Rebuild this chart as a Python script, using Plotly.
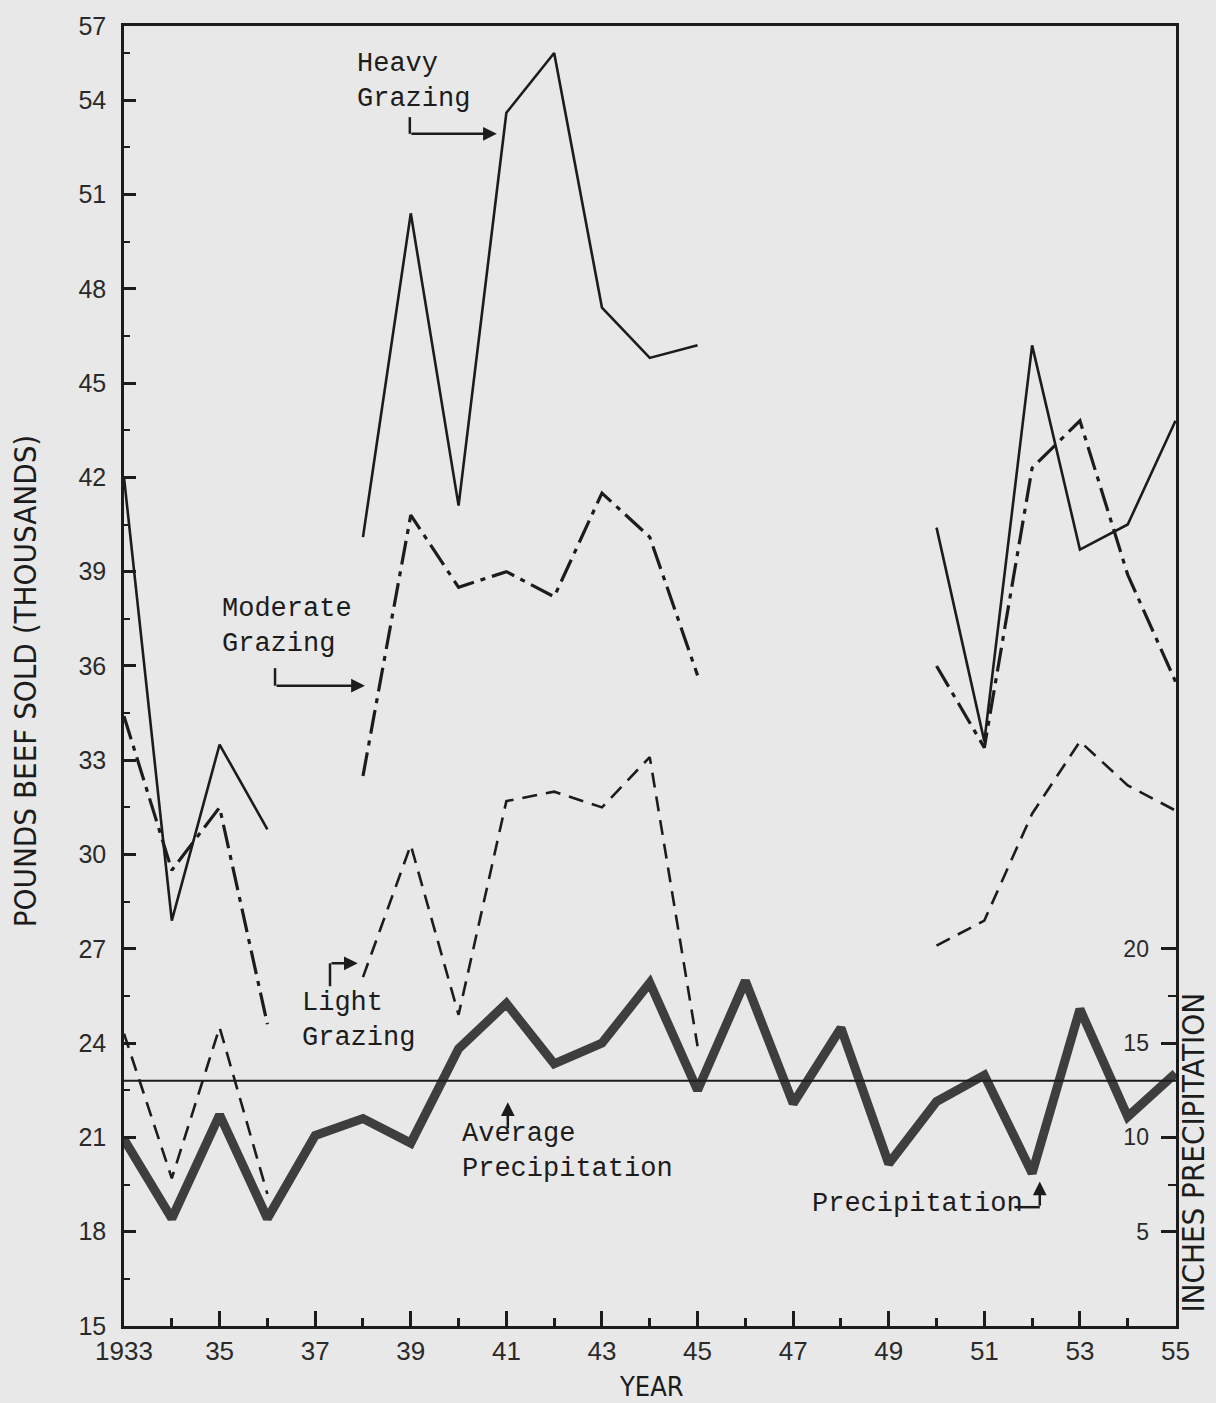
import plotly.graph_objects as go

# ---------------- data ----------------
YEARS = list(range(1933, 1956))

# Pounds of beef sold (thousands) per grazing intensity; None = no record
HEAVY = [42.0, 27.9, 33.5, 30.8, None, 40.1, 50.4, 41.1, 53.6, 55.5, 47.4, 45.8, 46.2,
         None, None, None, None, 40.4, 33.6, 46.2, 39.7, 40.5, 43.8]
MODERATE = [34.4, 29.5, 31.5, 24.6, None, 32.5, 40.8, 38.5, 39.0, 38.2, 41.5, 40.1, 35.7,
            None, None, None, None, 36.0, 33.4, 42.3, 43.8, 38.9, 35.5]
LIGHT = [24.3, 19.7, 24.5, 19.2, None, 26.1, 30.3, 24.9, 31.7, 32.0, 31.5, 33.1, 23.9,
         None, None, None, None, 27.1, 27.9, 31.3, 33.6, 32.2, 31.4]

# Inches of precipitation per year
PRECIP = [9.9, 5.7, 11.2, 5.7, 10.1, 11.0, 9.7, 14.7, 17.1, 13.9, 15.0, 18.2, 12.5,
          18.3, 11.8, 15.8, 8.6, 11.9, 13.3, 8.1, 16.8, 11.1, 13.4]
AVG_PRECIP = 13.0

X_TICKVALS = list(range(1933, 1956, 2))
X_TICKTEXT = ["1933", "35", "37", "39", "41", "43", "45", "47", "49", "51", "53", "55"]
X_MINOR = list(range(1934, 1956, 2))

Y_TOP = 56.36
Y_TICKVALS = list(range(15, 55, 3)) + [Y_TOP - 0.02]
Y_TICKTEXT = ["15", "18", "21", "24", "27", "30", "33", "36", "39", "42", "45", "48", "51", "54", "57"]
Y_MINOR = [v + 1.5 for v in range(15, 55, 3)]

R_TOP = (Y_TOP - 15) / 0.6
R_TICKVALS = [5, 10, 15, 20]
R_TICKTEXT = ["\u20075", "10", "15", "20"]
R_MINOR = [7.5, 17.5]

# ---------------- style ----------------
INK = "#1c1c1c"
BG = "#e8e8e8"
SANS = "Liberation Sans, Arial, sans-serif"
NARROW = "Liberation Sans Narrow, Arial Narrow, DejaVu Sans Condensed, Liberation Sans, sans-serif"
MONO = "Liberation Mono, Courier New, monospace"

fig = go.Figure()

fig.add_trace(go.Scatter(x=YEARS, y=PRECIP, yaxis="y2", mode="lines",
                         line=dict(color="#3e3e3e", width=9), name="Precipitation"))
fig.add_trace(go.Scatter(x=YEARS, y=HEAVY, mode="lines", connectgaps=False,
                         line=dict(color=INK, width=2.6), name="Heavy Grazing"))
fig.add_trace(go.Scatter(x=YEARS, y=MODERATE, mode="lines", connectgaps=False,
                         line=dict(color=INK, width=3.2, dash="24px,7px,5px,7px"),
                         name="Moderate Grazing"))
fig.add_trace(go.Scatter(x=YEARS, y=LIGHT, mode="lines", connectgaps=False,
                         line=dict(color=INK, width=2.6, dash="15px,9px"),
                         name="Light Grazing"))

shapes = [
    dict(type="line", xref="paper", x0=0, x1=1, yref="y2", y0=AVG_PRECIP, y1=AVG_PRECIP,
         line=dict(color=INK, width=2)),
    # bracket stubs of the label arrows
    dict(type="line", xref="x", yref="y", x0=1938.98, x1=1938.98, y0=53.46, y1=52.93,
         line=dict(color=INK, width=2.5)),
    dict(type="line", xref="x", yref="y", x0=1936.16, x1=1936.16, y0=35.93, y1=35.37,
         line=dict(color=INK, width=2.5)),
    dict(type="line", xref="x", yref="y", x0=1937.31, x1=1937.31, y0=25.81, y1=26.54,
         line=dict(color=INK, width=2.5)),
    dict(type="line", xref="x", yref="y", x0=1951.63, x1=1952.16, y0=18.78, y1=18.78,
         line=dict(color=INK, width=2.5)),
]


def label(text, x, y):
    return dict(text=text, x=x, y=y, xref="x", yref="y", xanchor="left", yanchor="middle",
                align="left", showarrow=False, font=dict(family=MONO, size=27, color=INK))


def arrow(tip_x, tip_y, tail_x, tail_y):
    return dict(text="", x=tip_x, y=tip_y, ax=tail_x, ay=tail_y, xref="x", yref="y",
                axref="x", ayref="y", showarrow=True, arrowhead=2, arrowsize=1.1,
                arrowwidth=2.5, arrowcolor=INK, standoff=0, startstandoff=0)


annotations = [
    label("Heavy<br>Grazing", 1937.83, 54.6),
    arrow(1940.80, 52.93, 1938.98, 52.93),
    label("Moderate<br>Grazing", 1935.01, 37.26),
    arrow(1938.04, 35.37, 1936.16, 35.37),
    label("Light<br>Grazing", 1936.68, 24.71),
    arrow(1937.89, 26.54, 1937.31, 26.54),
    label("Average<br>Precipitation", 1940.03, 20.55),
    arrow(1941.03, 22.12, 1941.03, 21.24),
    label("Precipitation", 1947.35, 18.88),
    arrow(1952.16, 19.60, 1952.16, 18.78),
    dict(text="POUNDS BEEF SOLD (THOUSANDS)", textangle=-90, x=-0.0941, y=0.496,
         xref="paper", yref="paper", xanchor="center", yanchor="middle", showarrow=False,
         font=dict(family=NARROW, size=31, color=INK)),
    dict(text="INCHES PRECIPITATION", textangle=-90, x=1.0162, y=0.1334,
         xref="paper", yref="paper", xanchor="center", yanchor="middle", showarrow=False,
         font=dict(family=NARROW, size=31, color=INK)),
    dict(text="YEAR", x=0.5019, y=-0.0465, xref="paper", yref="paper",
         xanchor="center", yanchor="middle", showarrow=False,
         font=dict(family=NARROW, size=27, color=INK)),
]

fig.update_layout(
    width=1216, height=1403,
    margin=dict(l=124, r=40, t=14, b=77),
    paper_bgcolor=BG, plot_bgcolor=BG,
    showlegend=False,
    shapes=shapes,
    annotations=annotations,
    xaxis=dict(range=[1933, 1955.01], showline=True, linecolor=INK, linewidth=2.5, mirror=True,
               ticks="inside", ticklen=15, tickwidth=2.5, tickcolor=INK,
               tickmode="array", tickvals=X_TICKVALS, ticktext=X_TICKTEXT,
               tickfont=dict(family=SANS, size=26, color="#2a2a2a"),
               ticklabeloverflow="allow",
               showgrid=False, zeroline=False,
               minor=dict(tickmode="array", tickvals=X_MINOR, ticks="inside", ticklen=8,
                          tickwidth=2.5, tickcolor=INK, showgrid=False)),
    yaxis=dict(range=[15, Y_TOP], showline=True, linecolor=INK, linewidth=2.5,
               ticks="inside", ticklen=12, tickwidth=3, tickcolor=INK,
               tickmode="array", tickvals=Y_TICKVALS, ticktext=Y_TICKTEXT,
               tickfont=dict(family=SANS, size=25, color="#2a2a2a"),
               ticklabelstandoff=10,
               showgrid=False, zeroline=False,
               minor=dict(tickmode="array", tickvals=Y_MINOR, ticks="inside", ticklen=6,
                          tickwidth=2, tickcolor=INK, showgrid=False)),
    yaxis2=dict(range=[0, R_TOP], overlaying="y", side="right", showline=True,
                linecolor=INK, linewidth=2.5,
                ticks="inside", ticklen=15, tickwidth=3, tickcolor=INK,
                tickmode="array", tickvals=R_TICKVALS, ticktext=R_TICKTEXT,
                ticklabelposition="outside", ticklabelstandoff=-60,
                tickfont=dict(family=SANS, size=23, color="#2a2a2a"),
                showgrid=False, zeroline=False,
                minor=dict(tickmode="array", tickvals=R_MINOR, ticks="inside", ticklen=8,
                           tickwidth=2, tickcolor=INK, showgrid=False)),
)

fig.write_html("out.html", config={"displayModeBar": False},
               post_script="document.body.style.margin='0';document.body.style.padding='0';")
